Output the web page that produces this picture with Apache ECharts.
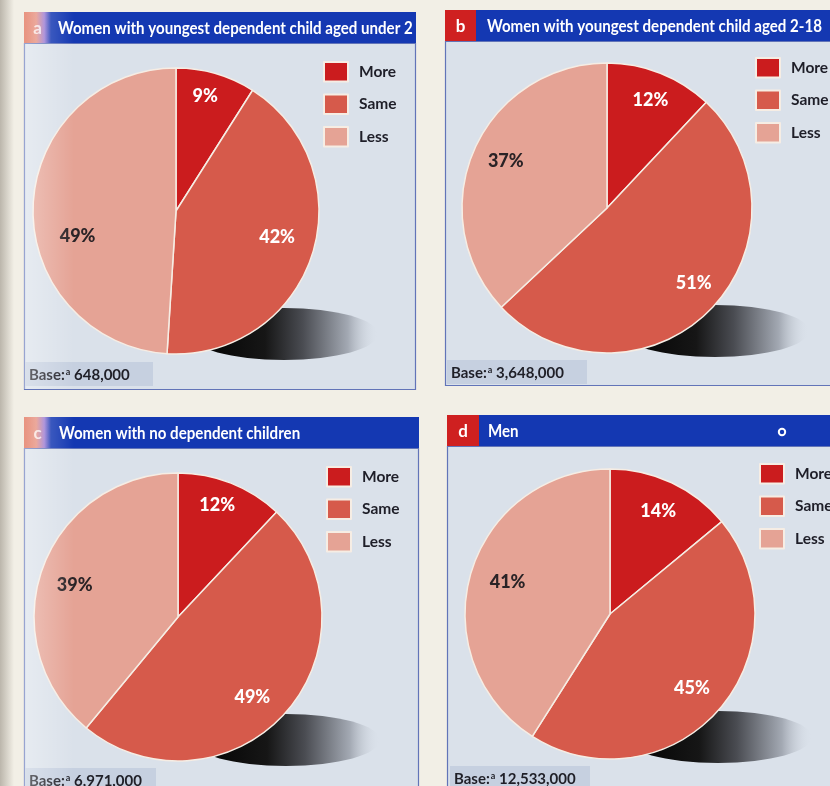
<!DOCTYPE html>
<html>
<head>
<meta charset="utf-8">
<script src="https://cdn.jsdelivr.net/npm/echarts@6/dist/echarts.min.js"></script>
<style>
  html, body { margin: 0; padding: 0; background: #f2efe6; }
  #chart { width: 830px; height: 786px; }
</style>
</head>
<body>
<div id="chart"></div>
<script>
// Answer categories shared by every panel
const categories = ['More', 'Same', 'Less'];

// Panel headings
const panelLetters = ['a', 'b', 'c', 'd'];
const panelTitles = [
  'Women with youngest dependent child aged under 2',
  'Women with youngest dependent child aged 2-18',
  'Women with no dependent children',
  'Men'
];

// Percentage of respondents per category, one entry per panel (a, b, c, d)
const moreValues = [9, 12, 12, 14];
const sameValues = [42, 51, 49, 45];
const lessValues = [49, 37, 39, 41];

// Base population of each panel
const baseCounts = ['648,000', '3,648,000', '6,971,000', '12,533,000'];

// ---- styling ----
const FONT = 'Lato, "Open Sans", sans-serif';
const sliceColors = ['#cb1c1e', '#d65a4b', '#e5a395'];
const labelColors = ['#ffffff', '#ffffff', '#2a2326'];
const BAR_BLUE = '#1438b2';
const BODY_BG = '#dae1ea';
const BORDER = '#6274b8';
const TITLE_H = 31;
const TITLE_SQUEEZE = 0.915;

// Frame geometry of the four panels
const panels = [
  { x: 24,  y: 12,  w: 391, bottom: 389, tab: 27, textX: 58,  pie: [176, 211, 143], legend: [323, 61],  base: [24, 362, 129, 24],  faded: true },
  { x: 445, y: 10,  w: 400, bottom: 385, tab: 31, textX: 487, pie: [607, 208, 145], legend: [755, 57],  base: [446, 360, 141, 24], faded: false },
  { x: 24,  y: 417, w: 394, bottom: 800, tab: 27, textX: 59,  pie: [178, 617, 144], legend: [326, 466], base: [24, 768, 132, 24],  faded: true },
  { x: 447, y: 415, w: 400, bottom: 800, tab: 32, textX: 488, pie: [610, 614, 145], legend: [759, 463], base: [449, 766, 141, 24], faded: false }
];

// Percentage label placement: radius fraction and angular nudge (degrees) per slice
const labelRadius = [[0.83, 0.73, 0.71], [0.80, 0.79, 0.77], [0.82, 0.76, 0.75], [0.78, 0.76, 0.74]];
const labelNudge  = [[-2, -3.6, -16], [0.4, -4.2, 1.6], [-2.2, 5.8, -2.8], [0, 0.6, 1.2]];

function panelValues(i) {
  return [moreValues[i], sameValues[i], lessValues[i]];
}

const chart = echarts.init(document.getElementById('chart'), null, { renderer: 'canvas' });

const graphics = [];
// page edge shading
graphics.push({
  type: 'rect', z: 0, silent: true,
  shape: { x: 0, y: 0, width: 14, height: 786 },
  style: { fill: { type: 'linear', x: 0, y: 0, x2: 1, y2: 0,
    colorStops: [{ offset: 0, color: 'rgba(120,112,100,0.45)' }, { offset: 1, color: 'rgba(120,112,100,0)' }] } }
});

panels.forEach((p, i) => {
  // panel body
  graphics.push({
    type: 'rect', z: 1, silent: true,
    shape: { x: p.x + 0.5, y: p.y + TITLE_H + 0.5, width: p.w, height: p.bottom - p.y - TITLE_H },
    style: { fill: BODY_BG, stroke: BORDER, lineWidth: 1.2 }
  });
  // title bar
  graphics.push({
    type: 'rect', z: 2, silent: true,
    shape: { x: p.x, y: p.y, width: p.w + 1, height: TITLE_H },
    style: { fill: BAR_BLUE }
  });
  // letter tab
  const tabFill = p.faded
    ? { type: 'linear', x: 0, y: 0, x2: 1, y2: 0, colorStops: [
        { offset: 0, color: '#dc5a3c' }, { offset: 0.45, color: '#e58a78' },
        { offset: 0.75, color: '#9b7ad2' }, { offset: 1, color: BAR_BLUE }] }
    : '#cf2020';
  graphics.push({
    type: 'rect', z: 3, silent: true,
    shape: { x: p.x, y: p.y, width: p.tab, height: TITLE_H },
    style: { fill: tabFill }
  });
  graphics.push({
    type: 'text', z: 4, silent: true,
    x: p.x + p.tab / 2, y: p.y + TITLE_H / 2 + 1,
    style: { text: panelLetters[i], fill: p.faded ? 'rgba(255,255,255,0.75)' : '#ffffff',
      font: 'bold 17px ' + FONT, align: 'center', verticalAlign: 'middle' }
  });
  graphics.push({
    type: 'text', z: 4, silent: true,
    x: p.textX, y: p.y + TITLE_H / 2 + 1,
    scaleX: TITLE_SQUEEZE,
    style: { text: panelTitles[i], fill: '#ffffff', font: 'bold 16.5px ' + FONT,
      align: 'left', verticalAlign: 'middle' }
  });
  // cast shadow under the pie
  const [cx, cy, r] = p.pie;
  graphics.push({
    type: 'ellipse', z: 3, silent: true,
    shape: { cx: cx + 108, cy: cy + 123, rx: 94, ry: 26 },
    style: { fill: { type: 'linear', x: 0, y: 0, x2: 1, y2: 0, colorStops: [
      { offset: 0, color: '#000000' }, { offset: 0.4, color: '#161616' },
      { offset: 0.6, color: '#4a4c52' }, { offset: 0.84, color: '#a3a9b3' },
      { offset: 1, color: 'rgba(218,225,234,0)' }] } }
  });
  // base box
  const [bx, by, bw, bh] = p.base;
  graphics.push({
    type: 'rect', z: 3, silent: true,
    shape: { x: bx + 1, y: by, width: bw - 1, height: bh },
    style: { fill: '#c6d0e0' }
  });
  graphics.push({
    type: 'text', z: 4, silent: true,
    x: bx + 5, y: by + bh / 2 + 1,
    style: {
      text: '{t|Base:}{s|a}{t| ' + baseCounts[i] + '}',
      verticalAlign: 'middle', align: 'left',
      rich: {
        t: { fontFamily: FONT, fontWeight: 'bold', fontSize: 15, fill: '#1f1f27' },
        s: { fontFamily: FONT, fontWeight: 'bold', fontSize: 9, fill: '#1f1f27', verticalAlign: 'top', padding: [0, 0, 0, 1] }
      }
    }
  });
  // washed-out strip on the left edge of the page
  if (p.faded) {
    graphics.push({
      type: 'rect', z: 20, silent: true,
      shape: { x: p.x, y: p.y, width: 50, height: p.bottom - p.y },
      style: { fill: { type: 'linear', x: 0, y: 0, x2: 1, y2: 0, colorStops: [
        { offset: 0, color: 'rgba(255,255,255,0.35)' }, { offset: 1, color: 'rgba(255,255,255,0)' }] } }
    });
  }
});

// small ring printed on panel d's heading
graphics.push({
  type: 'circle', z: 5, silent: true,
  shape: { cx: 782, cy: 432, r: 3.2 },
  style: { fill: 'none', stroke: '#ffffff', lineWidth: 2 }
});

const series = panels.map((p, i) => {
  const vals = panelValues(i);
  const total = vals.reduce((a, b) => a + b, 0);
  const [cx, cy, r] = p.pie;
  return {
    type: 'pie',
    z: 5,
    silent: true,
    animation: false,
    center: [cx, cy],
    radius: [0, r],
    startAngle: 90,
    clockwise: true,
    avoidLabelOverlap: false,
    itemStyle: { borderColor: '#f6ede4', borderWidth: 1.5 },
    label: {
      show: true, position: 'inside', formatter: '{c}%',
      fontFamily: FONT, fontWeight: 900, fontSize: 18
    },
    labelLine: { show: false },
    labelLayout: function (params) {
      const j = params.dataIndex;
      let before = 0;
      for (let k = 0; k < j; k++) before += vals[k];
      const mid = ((before + vals[j] / 2) / total) * 360 + labelNudge[i][j];
      const rad = mid * Math.PI / 180;
      const d = labelRadius[i][j] * r;
      return { x: cx + d * Math.sin(rad), y: cy - d * Math.cos(rad), align: 'center', verticalAlign: 'middle' };
    },
    data: categories.map((c, j) => ({
      name: c,
      value: vals[j],
      itemStyle: { color: sliceColors[j] },
      label: { color: labelColors[j] }
    }))
  };
});

const legends = panels.map(p => ({
  left: p.legend[0],
  top: p.legend[1],
  orient: 'vertical',
  padding: 0,
  icon: 'rect',
  itemWidth: 24,
  itemHeight: 19.5,
  itemGap: 11,
  selectedMode: false,
  data: categories,
  textStyle: { fontFamily: FONT, fontWeight: 'bold', fontSize: 15.5, color: '#1e1e28', padding: [0, 0, 0, 6] }
}));

chart.setOption({
  backgroundColor: '#f2efe6',
  animation: false,
  legend: legends,
  graphic: { elements: graphics },
  series: series
});
</script>
</body>
</html>
